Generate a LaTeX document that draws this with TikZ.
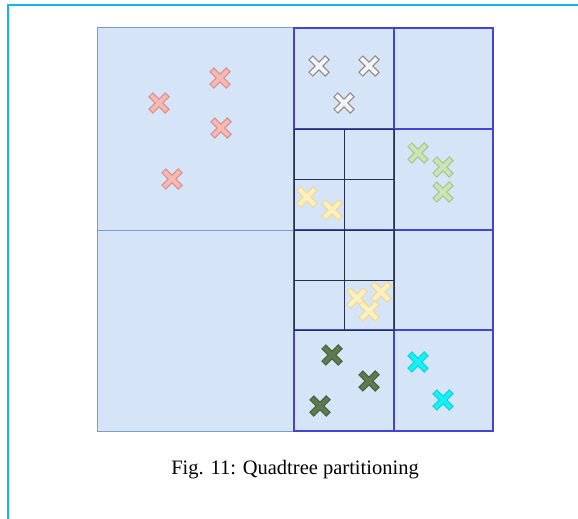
\documentclass[tikz,border=0pt]{standalone}
\usepackage{fontspec}
\setmainfont{Liberation Serif}
\definecolor{cellfill}{HTML}{D6E4F7}
\definecolor{steel}{HTML}{7E9CCB}
\definecolor{gridblue}{HTML}{4444D4}
\definecolor{griddark}{HTML}{27304A}
\definecolor{frame}{HTML}{12B4F0}
\definecolor{pinkin}{HTML}{F5B8B2}
\definecolor{pinkout}{HTML}{D8908C}
\definecolor{greyin}{HTML}{F4F4F4}
\definecolor{greyout}{HTML}{8A8A8A}
\definecolor{greenin}{HTML}{CCE4B4}
\definecolor{greenout}{HTML}{A6C690}
\definecolor{yellowin}{HTML}{FFF1BE}
\definecolor{yellowout}{HTML}{EED89A}
\definecolor{darkin}{HTML}{5E7A4F}
\definecolor{darkout}{HTML}{4A6240}
\definecolor{cyanin}{HTML}{14F0F4}
\definecolor{cyanout}{HTML}{10D4DC}
\tikzset{
  leafcell/.style={draw=steel, line width=1pt},
  quadcell/.style={draw=gridblue, line width=1.2pt},
  subcell/.style={draw=griddark, line width=1pt},
}
% one point of the data set: outline first, then the fill
\newcommand{\xmark}[4]{%
  \draw[line width=6.4pt,#4] (#1-8.5,#2-8.5) -- (#1+8.5,#2+8.5) (#1-8.5,#2+8.5) -- (#1+8.5,#2-8.5);
  \draw[line width=4pt,#3] (#1-7.7,#2-7.7) -- (#1+7.7,#2+7.7) (#1-7.7,#2+7.7) -- (#1+7.7,#2-7.7);
}
\begin{document}
\begin{tikzpicture}[x=1pt,y=-1pt]
  \useasboundingbox (0,0) rectangle (578,519);
  \clip (0,0) rectangle (578,519);
  \draw[frame, line width=2.6pt] (8,5) rectangle (600,540);

  % background of the whole region
  \fill[cellfill] (97,28) rectangle (493,431);
  \draw[leafcell] (97,28) rectangle (294,230);
  \draw[leafcell] (97,230) rectangle (294,431);

  % right half, one level down
  \foreach \y/\yy in {28/129, 129/230, 230/330, 330/431}
    \foreach \x/\xx in {294/394, 394/493}
      \draw[quadcell] (\x,\y) rectangle (\xx,\yy);

  % the two cells that are split once more
  \foreach \y/\yy in {129/179, 179/230, 230/280, 280/330}
    \foreach \x/\xx in {294/344, 344/394}
      \draw[subcell] (\x,\y) rectangle (\xx,\yy);

  % points
  \foreach \px/\py in {220/78, 159/103, 221/128, 172/179}
    {\xmark{\px}{\py}{pinkin}{pinkout}}
  \foreach \px/\py in {319/66, 369/66, 344/103}
    {\xmark{\px}{\py}{greyin}{greyout}}
  \foreach \px/\py in {418/153, 443/167, 443/192}
    {\xmark{\px}{\py}{greenin}{greenout}}
  \foreach \px/\py in {307/197, 332/210, 357/298, 381/292, 369/311}
    {\xmark{\px}{\py}{yellowin}{yellowout}}
  \foreach \px/\py in {332/355, 369/381, 320/406}
    {\xmark{\px}{\py}{darkin}{darkout}}
  \foreach \px/\py in {418/362, 443/400}
    {\xmark{\px}{\py}{cyanin}{cyanout}}

  \node[font=\fontsize{20.5}{24}\selectfont] (caption) at (295,470) {Fig. 11: Quadtree partitioning};
\end{tikzpicture}
\end{document}
